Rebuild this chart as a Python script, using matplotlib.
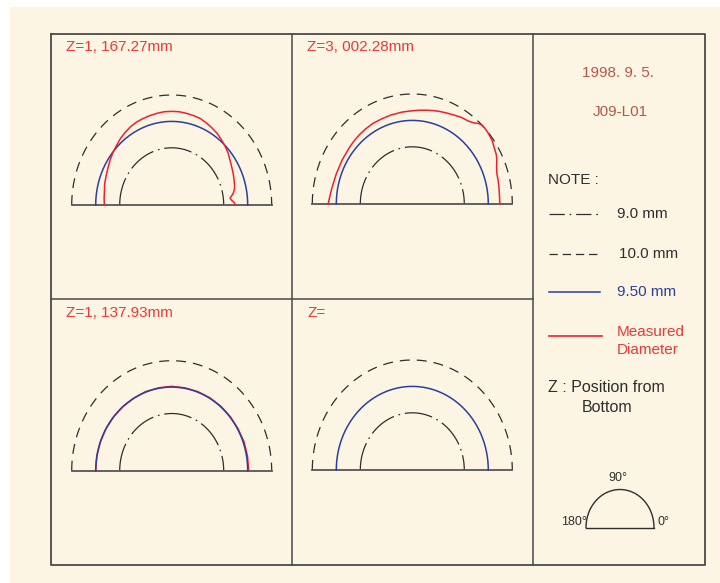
import numpy as np
import matplotlib
matplotlib.use("Agg")
import matplotlib.pyplot as plt

# ---------------- data ----------------
ref_diams = [9.0, 10.0, 9.50]          # reference circles (mm)
ref_labels = ["9.0 mm", "10.0 mm", "9.50 mm"]

panel_titles = ["Z=1, 167.27mm", "Z=3, 002.28mm", "Z=1, 137.93mm", "Z="]

angles_p1 = [0, 2, 4, 6, 8, 10, 13, 16, 20, 25, 30, 35, 40, 45, 50, 55, 60, 65, 70, 75, 80, 85,
             90, 95, 100, 105, 110, 115, 120, 125, 130, 135, 140, 146, 152, 158, 164, 170, 175, 180]
diam_p1 = [9.24, 9.22, 9.17, 9.14, 9.18, 9.22, 9.26, 9.28, 9.30, 9.33, 9.36, 9.40, 9.45, 9.49,
           9.53, 9.57, 9.60, 9.63, 9.66, 9.67, 9.68, 9.69, 9.69, 9.69, 9.68, 9.67, 9.66, 9.65,
           9.63, 9.60, 9.57, 9.53, 9.50, 9.46, 9.42, 9.39, 9.37, 9.34, 9.33, 9.32]

angles_p2 = [0, 5, 10, 14, 18, 22, 25, 28, 32, 36, 40, 43, 46, 48, 50, 52, 54, 58, 63, 68, 72,
             76, 80, 85, 91, 97, 105, 112, 118, 124, 130, 135, 140, 150, 160, 170, 175, 180]
diam_p2 = [9.74, 9.74, 9.75, 9.76, 9.77, 9.81, 9.86, 9.90, 9.93, 9.97, 9.99, 10.0, 10.0, 9.97,
           9.92, 9.89, 9.87, 9.85, 9.81, 9.78, 9.76, 9.74, 9.72, 9.70, 9.68, 9.67, 9.66, 9.65,
           9.65, 9.64, 9.63, 9.62, 9.61, 9.60, 9.60, 9.62, 9.64, 9.67]

angles_p3 = [0, 10, 20, 30, 40, 50, 60, 70, 80, 90, 100, 110, 120, 130, 140, 150, 160, 170, 180]
diam_p3 = [9.52, 9.52, 9.52, 9.51, 9.51, 9.51, 9.51, 9.51, 9.51, 9.515, 9.51, 9.51, 9.50,
           9.50, 9.50, 9.50, 9.50, 9.50, 9.50]

measured = [(angles_p1, diam_p1), (angles_p2, diam_p2), (angles_p3, diam_p3), None]

date_text = "1998. 9. 5."
id_text = "J09-L01"

# ---------------- style ----------------
plt.rcParams["font.family"] = ["Liberation Sans", "DejaVu Sans"]
plt.rcParams["lines.scale_dashes"] = False

BG = "#fdf5e3"
FRAME = "#4a4a4a"
BLACK = "#2e2e2e"
BLUE = "#2b3f9e"
RED = "#ee2030"
TXT_RED = "#e83a3a"
BROWN = "#b5584a"
FS = 11

LS_IN = (0, (20, 3.5, 1.2, 3.5))   # 9.0 mm dash-dot
LS_OUT = (0, (7.2, 5))             # 10.0 mm dashed

W, H = 720, 583
fig = plt.figure(figsize=(W / 100, H / 100), dpi=100)
fig.patch.set_facecolor("white")

bg = fig.add_axes([0, 0, 1, 1])
bg.set_xlim(0, W)
bg.set_ylim(H, 0)
bg.axis("off")
bg.add_patch(plt.Rectangle((10, 7), W - 10, H - 7, facecolor=BG, edgecolor="none", zorder=0))

# frame
fl, fr, ft, fb = 51, 705, 34, 565
bg.plot([fl, fr, fr, fl, fl], [ft, ft, fb, fb, ft], color=FRAME, lw=1.3, zorder=2)
bg.plot([291.5, 291.5], [ft, fb], color=FRAME, lw=1.1, zorder=2)
bg.plot([533, 533], [ft, fb], color=FRAME, lw=1.1, zorder=2)
bg.plot([fl, 533], [299, 299], color=FRAME, lw=1.1, zorder=2)

# ---------------- semicircle panels ----------------
D0 = 9.0 - 52 / 48          # radial offset (mm): 9.0 -> 52 px, 10.0 -> 100 px
SX, SY = 48.0, 52.8         # px per mm
centers = [(171.7, 205), (412.3, 204), (171.7, 470.7), (412.3, 470)]
title_pos = [(66.5, 47), (307, 47), (66.5, 313), (307, 313)]

xr = (-2.3, 2.3)
yr = (-0.2, 2.35)
for i, (cx, cy) in enumerate(centers):
    wpx = (xr[1] - xr[0]) * SX
    hpx = (yr[1] - yr[0]) * SY
    left = cx + xr[0] * SX
    top = cy - yr[1] * SY
    ax = fig.add_axes([left / W, 1 - (top + hpx) / H, wpx / W, hpx / H])
    ax.set_xlim(*xr)
    ax.set_ylim(*yr)
    ax.axis("off")
    ax.patch.set_alpha(0)

    th = np.linspace(0, np.pi, 400)
    r_in, r_out, r_mid = [d - D0 for d in ref_diams]
    ax.plot(r_in * np.cos(th[::-1]), r_in * np.sin(th[::-1]), color=BLACK, lw=0.9, linestyle=LS_IN)
    ax.plot(r_out * np.cos(th[::-1]), r_out * np.sin(th[::-1]), color=BLACK, lw=0.9, linestyle=LS_OUT)
    ax.plot([-r_out, r_out], [0, 0], color="#555555", lw=1.3)

    m = measured[i]
    if m is not None and i != 2:
        ax.plot(r_mid * np.cos(th), r_mid * np.sin(th), color=BLUE, lw=1.1, zorder=3)
    if m is not None:
        a = np.radians(m[0])
        rr = np.array(m[1]) - D0
        ax.plot(rr * np.cos(a), rr * np.sin(a), color=RED, lw=1.1, zorder=4)
    if m is None or i == 2:
        ax.plot(r_mid * np.cos(th), r_mid * np.sin(th), color=BLUE, lw=1.1, zorder=5)

    tx, ty = title_pos[i]
    bg.text(tx, ty, panel_titles[i], color=TXT_RED, fontsize=FS, ha="left", va="center")

# ---------------- right column ----------------
bg.text(618, 73, date_text, color=BROWN, fontsize=FS, ha="center", va="center")
bg.text(620, 112, id_text, color=BROWN, fontsize=FS, ha="center", va="center")
bg.text(548, 180, "NOTE :", color=BLACK, fontsize=FS, ha="left", va="center")

leg_y = [214, 254, 292]
leg_styles = [(BLACK, (0, (11, 3.5, 1.2, 3.5))), (BLACK, (0, (6, 3.5))), (BLUE, "-")]
leg_tx = [617, 619, 617]
for y, (c, ls), lab, tx in zip(leg_y, leg_styles, ref_labels, leg_tx):
    bg.plot([549, 600], [y, y], color=c, lw=0.9 if c == BLACK else 1.1, linestyle=ls)
    bg.text(tx, y, lab, color=(BLUE if c == BLUE else BLACK), fontsize=FS, ha="left", va="center")

bg.plot([549, 602], [336, 336], color=RED, lw=1.2)
bg.text(617, 331.5, "Measured", color=TXT_RED, fontsize=FS, ha="left", va="center")
bg.text(617, 350, "Diameter", color=TXT_RED, fontsize=FS, ha="left", va="center")

bg.text(548, 388, "Z : Position from", color=BLACK, fontsize=FS + 0.5, ha="left", va="center")
bg.text(582, 407, "Bottom", color=BLACK, fontsize=FS + 0.5, ha="left", va="center")

# orientation key
kc_x, kc_y, krx, kry = 620, 527.5, 34, 38
tk = np.linspace(0, np.pi, 200)
bg.plot(kc_x + krx * np.cos(tk), kc_y - kry * np.sin(tk), color=BLACK, lw=1.0)
bg.plot([kc_x - krx, kc_x + krx], [kc_y, kc_y], color=BLACK, lw=1.0)
bg.text(618, 478, "90°", color=BLACK, fontsize=9, ha="center", va="center")
bg.text(587, 522, "180°", color=BLACK, fontsize=9, ha="right", va="center")
bg.text(657, 522, "0°", color=BLACK, fontsize=9, ha="left", va="center")

fig.savefig("out.png", dpi=100, facecolor=fig.get_facecolor())
